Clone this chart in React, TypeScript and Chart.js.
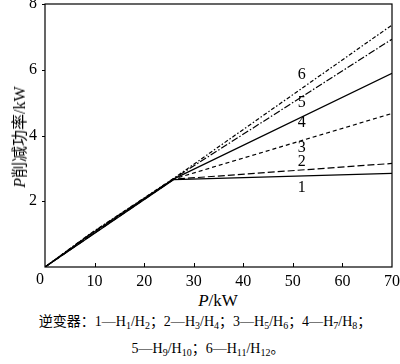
import React, { useEffect, useRef } from "react";
import { Chart, registerables } from "chart.js";
Chart.register(...registerables);

// Data (P in kW -> reduced power in kW)
const xPoints = [0, 9, 26, 70];
const series1 = [0, 0.92, 2.66, 2.85];
const series2 = [0, 0.93, 2.67, 3.15];
const series3 = [0, 0.94, 2.68, 4.67];
const series4 = [0, 0.97, 2.68, 5.89];
const series5 = [0, 0.99, 2.69, 6.93];
const series6 = [0, 1.0, 2.7, 7.36];
const seriesNames = ["1", "2", "3", "4", "5", "6"];
const labelX = [51.8, 51.8, 51.8, 51.8, 51.8, 51.8];
const labelY = [2.4, 3.19, 3.62, 4.38, 4.99, 5.84];
const xTicks = [10, 20, 30, 40, 50, 60];
const yTicks = [2, 4, 6, 8];

const allSeries = [series1, series2, series3, series4, series5, series6];
const dashes: number[][] = [[], [7, 3], [4, 3], [], [7, 2, 1.5, 2], [4, 2, 1.5, 2]];

const SERIF = '"Liberation Serif", "DejaVu Serif", serif';
const CJK = '"Liberation Serif", "Noto Sans CJK SC", serif';

const framePlugin = {
  id: "frame",
  afterDraw(chart: any) {
    const { ctx, chartArea } = chart;
    const xs = chart.scales.x;
    const ys = chart.scales.y;
    ctx.save();
    ctx.strokeStyle = "#000";
    ctx.lineWidth = 1.2;
    ctx.strokeRect(chartArea.left, chartArea.top, chartArea.right - chartArea.left, chartArea.bottom - chartArea.top);
    ctx.lineWidth = 1;
    ctx.beginPath();
    xTicks.forEach((v) => {
      const px = Math.round(xs.getPixelForValue(v)) + 0.5;
      ctx.moveTo(px, chartArea.bottom);
      ctx.lineTo(px, chartArea.bottom - 4);
    });
    yTicks.forEach((v) => {
      const py = Math.round(ys.getPixelForValue(v)) + 0.5;
      ctx.moveTo(chartArea.left, py);
      ctx.lineTo(chartArea.left - 3, py);
    });
    ctx.stroke();
    ctx.fillStyle = "#000";
    ctx.font = "16px " + SERIF;
    ctx.textAlign = "center";
    ctx.textBaseline = "middle";
    ctx.fillText("0", chartArea.left - 5, chartArea.bottom + 13);
    seriesNames.forEach((n, i) => {
      ctx.fillText(n, xs.getPixelForValue(labelX[i]), ys.getPixelForValue(labelY[i]));
    });
    ctx.restore();
  },
};

export default function App() {
  const ref = useRef<HTMLCanvasElement>(null);
  useEffect(() => {
    if (!ref.current) return;
    const chart = new Chart(ref.current, {
      type: "line",
      data: {
        datasets: allSeries.map((s, i) => ({
          label: seriesNames[i],
          data: s.map((y, j) => ({ x: xPoints[j], y })),
          borderColor: "#000",
          borderWidth: 1.2,
          borderDash: dashes[i],
          pointRadius: 0,
          fill: false,
          tension: 0,
        })),
      },
      options: {
        responsive: false,
        animation: false,
        layout: { padding: { left: 0, right: 8, top: 4, bottom: 0 } },
        plugins: { legend: { display: false }, tooltip: { enabled: false } },
        scales: {
          x: {
            type: "linear",
            min: 0,
            max: 70,
            grid: { display: false, drawTicks: false },
            border: { display: false },
            ticks: {
              stepSize: 10,
              color: "#000",
              font: { size: 16, family: SERIF },
              padding: 5,
              maxRotation: 0,
              callback: (v: any) => (v === 0 ? "" : String(v)),
            },
            afterFit: (s: any) => {
              s.height = 23;
              s.paddingLeft = 0;
              s.paddingRight = 0;
            },
          },
          y: {
            type: "linear",
            min: 0,
            max: 8,
            grid: { display: false, drawTicks: false },
            border: { display: false },
            ticks: {
              stepSize: 2,
              color: "#000",
              font: { size: 16, family: SERIF },
              padding: 8,
              callback: (v: any) => (v === 0 ? "" : String(v)),
            },
            afterFit: (s: any) => {
              s.width = 45;
              s.paddingTop = 0;
              s.paddingBottom = 0;
            },
          },
        },
      },
      plugins: [framePlugin],
    } as any);
    return () => chart.destroy();
  }, []);

  const sub = { fontSize: "10px", verticalAlign: "-3px", lineHeight: 0 } as React.CSSProperties;
  const H = (a: string, b: string) => (
    <>
      H<span style={sub}>{a}</span>/H<span style={sub}>{b}</span>
    </>
  );

  return (
    <div style={{ position: "absolute", left: 0, top: 0, width: 400, height: 364, background: "#fff", color: "#000" }}>
      <canvas ref={ref} width={400} height={290} style={{ position: "absolute", left: 0, top: 0 }} />
      <div
        style={{
          position: "absolute",
          left: 18,
          top: 137,
          transform: "translate(-50%, -50%) rotate(-90deg)",
          whiteSpace: "nowrap",
          fontFamily: CJK,
          fontSize: 16,
        }}
      >
        <i>P</i>削减功率/kW
      </div>
      <div
        style={{
          position: "absolute",
          left: 0,
          width: 436,
          top: 291,
          textAlign: "center",
          whiteSpace: "nowrap",
          fontFamily: SERIF,
          fontSize: 17,
          lineHeight: "20px",
        }}
      >
        <i>P</i>/kW
      </div>
      <div
        style={{
          position: "absolute",
          left: 0,
          width: 410,
          top: 313,
          textAlign: "center",
          whiteSpace: "nowrap",
          fontFamily: CJK,
          fontSize: 14,
          lineHeight: "18px",
        }}
      >
        逆变器：1—{H("1", "2")}；2—{H("3", "4")}；3—{H("5", "6")}；4—{H("7", "8")}；
      </div>
      <div
        style={{
          position: "absolute",
          left: 0,
          width: 416,
          top: 340,
          textAlign: "center",
          whiteSpace: "nowrap",
          fontFamily: CJK,
          fontSize: 14,
          lineHeight: "18px",
        }}
      >
        5—{H("9", "10")}；6—{H("11", "12")}。
      </div>
    </div>
  );
}
